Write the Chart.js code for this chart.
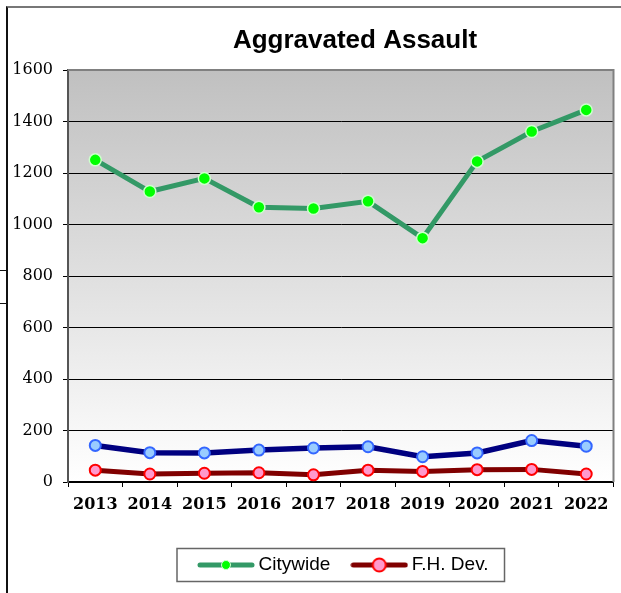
<!DOCTYPE html>
<html>
<head>
<meta charset="utf-8">
<script src="https://cdn.jsdelivr.net/npm/chart.js@4.4.0/dist/chart.umd.min.js"></script>
<style>
  html, body { margin: 0; padding: 0; background: #fff; }
  #wrap { position: relative; width: 621px; height: 593px; overflow: hidden; }
  #frame { position: absolute; left: 6px; top: 6px; width: 630px; height: 600px;
           border-top: 2px solid #777; border-left: 2px solid #111; }
  .mark { position: absolute; left: 0; width: 7px; height: 1px; background: #111; }
  canvas { position: absolute; left: 0; top: 0; }
</style>
</head>
<body>
<div id="wrap">
  <div id="frame"></div>
  <div class="mark" style="top:270px"></div>
  <div class="mark" style="top:303px"></div>
  <canvas id="chart" width="621" height="593"></canvas>
</div>
<script>
// chart data
const titleText = 'Aggravated Assault';
const years = ['2013', '2014', '2015', '2016', '2017', '2018', '2019', '2020', '2021', '2022'];
const citywide = [1251, 1128, 1179, 1067, 1062, 1090, 947, 1245, 1361, 1445];
const fhDev = [46, 31, 34, 36, 28, 46, 41, 48, 49, 31];
const thirdSeries = [142, 114, 113, 124, 132, 137, 98, 113, 161, 139]; // blue line, not in legend
const yTicks = [0, 200, 400, 600, 800, 1000, 1200, 1400, 1600];

// legend symbol: a thick line with the marker on it
function makeSymbol(lineColor, fill, border, radius, borderWidth) {
  const c = document.createElement('canvas');
  c.width = 58;
  c.height = 18;
  const g = c.getContext('2d');
  g.strokeStyle = lineColor;
  g.lineWidth = 5;
  g.lineCap = 'round';
  g.beginPath();
  g.moveTo(3, 9);
  g.lineTo(55, 9);
  g.stroke();
  g.beginPath();
  g.arc(29, 9, radius, 0, Math.PI * 2);
  g.fillStyle = fill;
  g.fill();
  if (borderWidth) {
    g.lineWidth = borderWidth;
    g.strokeStyle = border;
    g.stroke();
  }
  return c;
}
const symbols = [
  makeSymbol('#339966', '#00ff00', '#ccffcc', 4.5, 1),
  makeSymbol('#800000', '#ff99cc', '#ff0000', 6.5, 2)
];

// gray-to-white plot background and top/right plot border
const plotArea = {
  id: 'plotArea',
  beforeDraw(chart) {
    const {ctx, chartArea: a} = chart;
    const grad = ctx.createLinearGradient(0, a.top, 0, a.bottom);
    grad.addColorStop(0, '#c0c0c0');
    grad.addColorStop(1, '#ffffff');
    ctx.save();
    ctx.fillStyle = grad;
    ctx.fillRect(a.left, a.top, a.right - a.left, a.bottom - a.top);
    ctx.restore();
  },
  beforeDatasetsDraw(chart) {
    const {ctx, chartArea: a} = chart;
    ctx.save();
    ctx.strokeStyle = '#808080';
    ctx.lineWidth = 2;
    ctx.beginPath();
    ctx.moveTo(a.left, a.top);
    ctx.lineTo(a.right, a.top);
    ctx.lineTo(a.right, a.bottom);
    ctx.stroke();
    ctx.restore();
  },
  afterLayout(chart) {
    // move the legend row to the right, like the original
    chart.legend.left = 177;
  },
  afterDraw(chart) {
    const ctx = chart.ctx;
    ctx.save();
    ctx.fillStyle = '#000';
    ctx.font = 'bold 26px "Liberation Sans", Arial, sans-serif';
    ctx.textAlign = 'center';
    ctx.textBaseline = 'alphabetic';
    ctx.fillText(titleText, 355, 48);

    // box round the legend
    const boxes = chart.legend.legendHitBoxes;
    if (boxes && boxes.length) {
      const first = boxes[0];
      const last = boxes[boxes.length - 1];
      ctx.strokeStyle = '#666';
      ctx.lineWidth = 1.5;
      ctx.strokeRect(first.left - 26, first.top - 7, last.left + last.width + 16 - (first.left - 26), first.height + 14);
    }
    ctx.restore();
  }
};

const chart = new Chart(document.getElementById('chart'), {
  type: 'line',
  data: {
    labels: years,
    datasets: [
      {
        label: 'Citywide',
        data: citywide,
        borderColor: '#339966',
        borderWidth: 5,
        pointRadius: 6,
        pointBackgroundColor: '#00ff00',
        pointBorderColor: '#ccffcc',
        pointBorderWidth: 1.5,
        tension: 0
      },
      {
        label: 'F.H. Dev.',
        data: fhDev,
        borderColor: '#800000',
        borderWidth: 5,
        pointRadius: 5.5,
        pointBackgroundColor: '#ff99cc',
        pointBorderColor: '#ff0000',
        pointBorderWidth: 2,
        tension: 0
      },
      {
        label: '',
        data: thirdSeries,
        borderColor: '#000080',
        borderWidth: 5.5,
        pointRadius: 5.5,
        pointBackgroundColor: '#99ccff',
        pointBorderColor: '#3366ff',
        pointBorderWidth: 2,
        tension: 0
      }
    ]
  },
  options: {
    responsive: false,
    animation: false,
    layout: { padding: { top: 70, left: 0, right: 4, bottom: 8.5 } },
    plugins: {
      title: { display: false },
      tooltip: { enabled: false },
      legend: {
        position: 'bottom',
        align: 'start',
        labels: {
          usePointStyle: true,
          pointStyleWidth: 46,
          padding: 26,
          color: '#000',
          font: { family: '"Liberation Sans", Arial, sans-serif', size: 19 },
          generateLabels(chart) {
            const items = Chart.defaults.plugins.legend.labels.generateLabels(chart);
            return items.filter(it => it.text !== '').map((it, i) => {
              it.pointStyle = symbols[i];
              return it;
            });
          }
        }
      }
    },
    scales: {
      x: {
        offset: true,
        grid: { offset: true, drawOnChartArea: false, tickLength: 5, color: '#000' },
        border: { color: '#000', width: 1.5 },
        ticks: {
          color: '#000',
          padding: 8,
          maxRotation: 0,
          font: { family: '"DejaVu Serif", serif', size: 16, weight: 'bold' }
        },
        afterFit(scale) { scale.height = 47.5; }
      },
      y: {
        min: 0,
        max: 1600,
        afterBuildTicks(scale) { scale.ticks = yTicks.map(v => ({ value: v })); },
        grid: { color: '#000', lineWidth: 1, tickLength: 5 },
        border: { color: '#555', width: 2 },
        ticks: {
          color: '#000',
          padding: 10,
          font: { family: '"DejaVu Serif", serif', size: 16 },
          callback: (value) => String(value)
        },
        afterFit(scale) { scale.width = 68; }
      }
    }
  },
  plugins: [plotArea]
});
</script>
</body>
</html>
